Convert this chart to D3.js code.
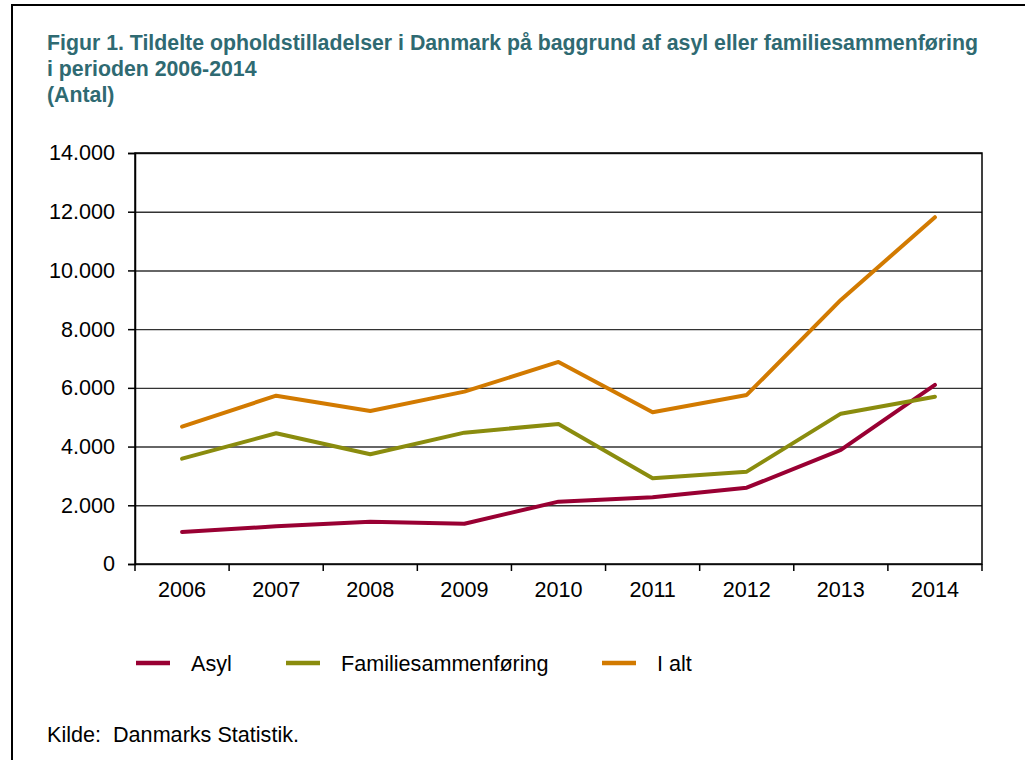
<!DOCTYPE html>
<html>
<head>
<meta charset="utf-8">
<script src="https://cdn.jsdelivr.net/npm/d3@7"></script>
<style>
  body { margin: 0; background: #fff; }
  svg { display: block; font-family: "Liberation Sans", Arial, sans-serif; }
</style>
</head>
<body>
<svg id="chart" width="1025" height="760"></svg>
<script>
// values
const years = ['2006', '2007', '2008', '2009', '2010', '2011', '2012', '2013', '2014']
const asyl = [1090, 1284, 1441, 1373, 2123, 2272, 2600, 3884, 6099]
const familie = [3588, 4453, 3737, 4474, 4770, 2920, 3145, 5121, 5700]
const ialt = [4678, 5734, 5213, 5871, 6882, 5169, 5758, 8995, 11812]
const yTicks = [0, 2000, 4000, 6000, 8000, 10000, 12000, 14000]
const seriesNames = ['Asyl', 'Familiesammenføring', 'I alt']
const titleLines = [
    'Figur 1. Tildelte opholdstilladelser i Danmark på baggrund af asyl eller familiesammenføring',
    'i perioden 2006-2014',
    '(Antal)'
]
const source = 'Kilde:  Danmarks Statistik.'

const colors = ['#990033', '#8a8c0e', '#d27a00']
const series = [asyl, familie, ialt]

const svg = d3.select('#chart')
const margin = { top: 153, right: 43, bottom: 196, left: 135 }
const width = 1025, height = 760
const fontSize = '21.6px'

// outer frame (top + left edge)
svg.append('path')
    .attr('d', 'M12,760 V5 H1025')
    .attr('fill', 'none')
    .attr('stroke', '#000')
    .attr('stroke-width', 2)

// title
svg.append('g').selectAll('text')
    .data(titleLines)
    .join('text')
    .attr('x', 47)
    .attr('y', (d, i) => 50 + i * 26)
    .attr('fill', '#2f6a72')
    .style('font-size', '21.3px')
    .style('font-weight', 'bold')
    .text(d => d)

const x = d3.scaleBand()
    .domain(years)
    .range([margin.left, width - margin.right])
const y = d3.scaleLinear()
    .domain([0, 14000])
    .range([height - margin.bottom, margin.top])

const daLocale = d3.formatLocale({ decimal: ',', thousands: '.', grouping: [3], currency: ['', ''] })
const fmt = daLocale.format(',')

// gridlines
svg.append('g')
    .attr('transform', 'translate(' + margin.left + ',0)')
    .call(d3.axisLeft(y).tickValues(yTicks).tickSize(-(width - margin.left - margin.right)).tickFormat(''))
    .call(g => g.select('.domain').remove())
    .call(g => g.selectAll('line').attr('stroke', '#333').attr('stroke-width', 1.4))

// y axis
svg.append('g')
    .attr('transform', 'translate(' + margin.left + ',0)')
    .call(d3.axisLeft(y).tickValues(yTicks).tickSize(7).tickPadding(13).tickFormat(fmt))
    .call(g => g.select('.domain').attr('stroke', '#000').attr('stroke-width', 1.5))
    .call(g => g.selectAll('line').attr('stroke', '#000').attr('stroke-width', 1.5))
    .call(g => g.selectAll('text').style('font-size', fontSize).attr('fill', '#000'))

// plot frame
svg.append('rect')
    .attr('x', margin.left)
    .attr('y', margin.top)
    .attr('width', width - margin.left - margin.right)
    .attr('height', height - margin.top - margin.bottom)
    .attr('fill', 'none')
    .attr('stroke', '#000')
    .attr('stroke-width', 1.5)

// x axis labels
svg.append('g')
    .attr('transform', 'translate(0,' + y(0) + ')')
    .call(d3.axisBottom(x).tickSize(0).tickPadding(18))
    .call(g => g.select('.domain').remove())
    .call(g => g.selectAll('text').style('font-size', fontSize).attr('fill', '#000'))

// x ticks at category boundaries
const bounds = years.map(d => x(d)).concat([x.range()[1]])
svg.append('g').selectAll('line')
    .data(bounds)
    .join('line')
    .attr('x1', d => d).attr('x2', d => d)
    .attr('y1', y(0)).attr('y2', y(0) + 7)
    .attr('stroke', '#000')
    .attr('stroke-width', 1.5)

// lines
const line = d3.line()
    .x((d, i) => x(years[i]) + x.bandwidth() / 2)
    .y(d => y(d))

svg.append('g').selectAll('path')
    .data(series)
    .join('path')
    .attr('d', line)
    .attr('fill', 'none')
    .attr('stroke', (d, i) => colors[i])
    .attr('stroke-width', 4)
    .attr('stroke-linejoin', 'round')
    .attr('stroke-linecap', 'round')

// legend
const legendX = [136, 286, 602]
const legend = svg.append('g').selectAll('g')
    .data(seriesNames)
    .join('g')
    .attr('transform', (d, i) => 'translate(' + legendX[i] + ',663)')
legend.append('line')
    .attr('x1', 0).attr('x2', 34)
    .attr('stroke', (d, i) => colors[i])
    .attr('stroke-width', 4.5)
legend.append('text')
    .attr('x', 55)
    .attr('y', 8)
    .style('font-size', fontSize)
    .attr('fill', '#000')
    .text(d => d)

// source
svg.append('text')
    .attr('x', 47)
    .attr('y', 742)
    .style('font-size', fontSize)
    .attr('fill', '#000')
    .style('white-space', 'pre')
    .text(source)
</script>
</body>
</html>
